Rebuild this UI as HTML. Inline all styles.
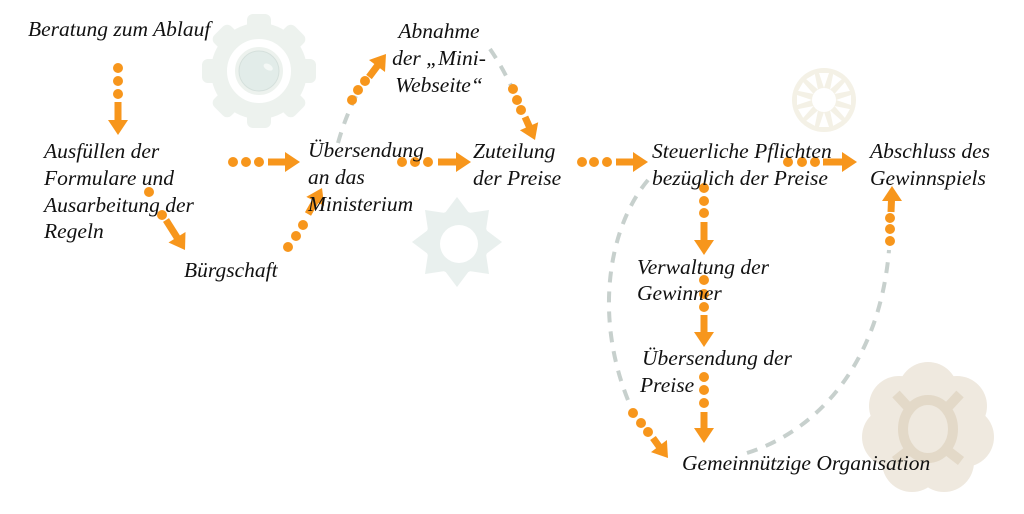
<!DOCTYPE html>
<html>
<head>
<meta charset="utf-8">
<style>
  html,body{margin:0;padding:0;background:#ffffff;}
  body{width:1024px;height:514px;overflow:hidden;}
  svg{display:block;}
  .t{font-family:"Liberation Serif",serif;font-style:italic;font-size:21.5px;fill:#111111;}
</style>
</head>
<body>
<svg width="1024" height="514" viewBox="0 0 1024 514" xmlns="http://www.w3.org/2000/svg">
  <rect width="1024" height="514" fill="#ffffff"/>

  <!-- Gear top-left -->
  <g transform="translate(259,71)" fill="#EDF2EE">
    <circle r="48"/>
    <g>
      <rect x="-12" y="-57" width="24" height="22" rx="6"/>
      <rect x="-12" y="-57" width="24" height="22" rx="6" transform="rotate(45)"/>
      <rect x="-12" y="-57" width="24" height="22" rx="6" transform="rotate(90)"/>
      <rect x="-12" y="-57" width="24" height="22" rx="6" transform="rotate(135)"/>
      <rect x="-12" y="-57" width="24" height="22" rx="6" transform="rotate(180)"/>
      <rect x="-12" y="-57" width="24" height="22" rx="6" transform="rotate(225)"/>
      <rect x="-12" y="-57" width="24" height="22" rx="6" transform="rotate(270)"/>
      <rect x="-12" y="-57" width="24" height="22" rx="6" transform="rotate(315)"/>
    </g>
    <circle r="28" fill="none" stroke="#ffffff" stroke-width="8"/>
    <circle r="20" fill="#E2ECE9" stroke="#D5E0DC" stroke-width="1"/>
    <ellipse cx="6" cy="-8" rx="5" ry="3" fill="#F4F8F6" transform="rotate(30)"/>
  </g>

  <!-- Gear middle (star-like) -->
  <g transform="translate(457,242)" fill="#E9F0EE">
    <polygon points="0,-45 12,-29 32,-32 29,-12 45,0 29,12 32,32 12,29 0,45 -12,29 -32,32 -29,12 -45,0 -29,-12 -32,-32 -12,-29"/>
    <circle r="32"/>
    <circle cx="2" cy="2" r="19" fill="#ffffff"/>
  </g>

  <!-- Sun icon -->
  <g transform="translate(824,100)">
    <circle r="32" fill="#F4F1E6"/>
    <g fill="#ffffff">
      <polygon points="0,-12 -5,-27 5,-27"/>
      <polygon points="0,-12 -5,-27 5,-27" transform="rotate(30)"/>
      <polygon points="0,-12 -5,-27 5,-27" transform="rotate(60)"/>
      <polygon points="0,-12 -5,-27 5,-27" transform="rotate(90)"/>
      <polygon points="0,-12 -5,-27 5,-27" transform="rotate(120)"/>
      <polygon points="0,-12 -5,-27 5,-27" transform="rotate(150)"/>
      <polygon points="0,-12 -5,-27 5,-27" transform="rotate(180)"/>
      <polygon points="0,-12 -5,-27 5,-27" transform="rotate(210)"/>
      <polygon points="0,-12 -5,-27 5,-27" transform="rotate(240)"/>
      <polygon points="0,-12 -5,-27 5,-27" transform="rotate(270)"/>
      <polygon points="0,-12 -5,-27 5,-27" transform="rotate(300)"/>
      <polygon points="0,-12 -5,-27 5,-27" transform="rotate(330)"/>
      <circle r="12"/>
    </g>
  </g>

  <!-- Flower bottom-right -->
  <g transform="translate(928,429)" fill="#EFE9DF">
    <circle r="44"/>
    <circle cx="0" cy="-37" r="30"/>
    <circle cx="29" cy="-23" r="30"/>
    <circle cx="36" cy="8" r="30"/>
    <circle cx="16" cy="33" r="30"/>
    <circle cx="-16" cy="33" r="30"/>
    <circle cx="-36" cy="8" r="30"/>
    <circle cx="-29" cy="-23" r="30"/>
    <g stroke="#E3D9C8" stroke-width="10" fill="none">
      <ellipse cx="0" cy="0" rx="25" ry="29"/>
      <line x1="-20" y1="-22" x2="-32" y2="-35"/>
      <line x1="20" y1="-22" x2="32" y2="-35"/>
      <line x1="20" y1="22" x2="33" y2="32"/>
      <line x1="-20" y1="22" x2="-33" y2="32"/>
    </g>
  </g>

  <!-- Gray dashed curves -->
  <g fill="none" stroke="#C7D0CD" stroke-width="4" stroke-dasharray="11 9">
    <path d="M338,143 Q345,118 356,96"/>
    <path d="M490,49 Q503,68 514,92"/>
    <path d="M648,180 C610,225 592,315 630,405"/>
    <path d="M747,453 C820,430 880,360 889,250"/>
  </g>

  <!-- Orange arrows -->
  <g fill="#F7961C" stroke="none">
    <circle cx="118" cy="68" r="5"/><circle cx="118" cy="81" r="5"/><circle cx="118" cy="94" r="5"/>
    <polygon points="108,120 128,120 118,135"/>
    <circle cx="233" cy="162" r="5"/><circle cx="246" cy="162" r="5"/><circle cx="259" cy="162" r="5"/>
    <polygon points="285,152 285,172 300,162"/>
    <circle cx="149" cy="192" r="5"/><circle cx="162" cy="215" r="5"/>
    <polygon points="185.5,232 168.5,242.5 185,250"/>
    <circle cx="288" cy="247" r="5"/><circle cx="296" cy="236" r="5"/><circle cx="303" cy="225" r="5"/>
    <polygon points="324.2,205.9 306.3,196.9 322,188"/>
    <circle cx="352" cy="100" r="5"/><circle cx="358" cy="90" r="5"/><circle cx="365" cy="81" r="5"/>
    <polygon points="385,72 369,60 386,54"/>
    <circle cx="513" cy="89" r="5"/><circle cx="517" cy="100" r="5"/><circle cx="521" cy="110" r="5"/>
    <polygon points="538.2,122.3 519.9,130.2 535,140"/>
    <circle cx="402" cy="162" r="5"/><circle cx="415" cy="162" r="5"/><circle cx="428" cy="162" r="5"/>
    <polygon points="456,152 456,172 471,162"/>
    <circle cx="582" cy="162" r="5"/><circle cx="594" cy="162" r="5"/><circle cx="607" cy="162" r="5"/>
    <polygon points="633,152 633,172 648,162"/>
    <circle cx="788" cy="162" r="5"/><circle cx="802" cy="162" r="5"/><circle cx="815" cy="162" r="5"/>
    <polygon points="842,152 842,172 857,162"/>
    <circle cx="704" cy="188" r="5"/><circle cx="704" cy="201" r="5"/><circle cx="704" cy="213" r="5"/>
    <polygon points="694,240 714,240 704,255"/>
    <circle cx="704" cy="280" r="5"/><circle cx="704" cy="294" r="5"/><circle cx="704" cy="307" r="5"/>
    <polygon points="694,332 714,332 704,347"/>
    <circle cx="704" cy="377" r="5"/><circle cx="704" cy="390" r="5"/><circle cx="704" cy="403" r="5"/>
    <polygon points="694,428 714,428 704,443"/>
    <circle cx="633" cy="413" r="5"/><circle cx="641" cy="423" r="5"/><circle cx="648" cy="432" r="5"/>
    <polygon points="666.9,440 651,452.1 668,458"/>
    <circle cx="890" cy="241" r="5"/><circle cx="890" cy="229" r="5"/><circle cx="890" cy="218" r="5"/>
    <polygon points="882,201 902,201 892,186"/>
  </g>
  <g stroke="#F7961C" stroke-width="7" fill="none">
    <line x1="118" y1="102" x2="118" y2="121"/>
    <line x1="268" y1="162" x2="286" y2="162"/>
    <line x1="166" y1="220" x2="178" y2="239"/>
    <line x1="308" y1="214" x2="316" y2="200"/>
    <line x1="369" y1="77" x2="378" y2="65"/>
    <line x1="525" y1="117" x2="529.5" y2="127"/>
    <line x1="438" y1="162" x2="457" y2="162"/>
    <line x1="616" y1="162" x2="634" y2="162"/>
    <line x1="823" y1="162" x2="843" y2="162"/>
    <line x1="704" y1="222" x2="704" y2="241"/>
    <line x1="704" y1="315" x2="704" y2="333"/>
    <line x1="704" y1="412" x2="704" y2="429"/>
    <line x1="653" y1="438" x2="659.5" y2="447"/>
    <line x1="891" y1="212" x2="891.5" y2="200"/>
  </g>

  <!-- Labels -->
  <text class="t" x="28" y="36">Beratung zum Ablauf</text>

  <text class="t" x="44" y="158">Ausfüllen der</text>
  <text class="t" x="44" y="185">Formulare und</text>
  <text class="t" x="44" y="212">Ausarbeitung der</text>
  <text class="t" x="44" y="238">Regeln</text>

  <text class="t" x="184" y="277">Bürgschaft</text>

  <text class="t" x="308" y="157">Übersendung</text>
  <text class="t" x="308" y="184">an das</text>
  <text class="t" x="308" y="211">Ministerium</text>

  <text class="t" x="439" y="38" text-anchor="middle">Abnahme</text>
  <text class="t" x="439" y="65" text-anchor="middle">der „Mini-</text>
  <text class="t" x="439" y="92" text-anchor="middle">Webseite“</text>

  <text class="t" x="473" y="158">Zuteilung</text>
  <text class="t" x="473" y="185">der Preise</text>

  <text class="t" x="652" y="158">Steuerliche Pflichten</text>
  <text class="t" x="652" y="185">bezüglich der Preise</text>

  <text class="t" x="870" y="158">Abschluss des</text>
  <text class="t" x="870" y="185">Gewinnspiels</text>

  <text class="t" x="637" y="274">Verwaltung der</text>
  <text class="t" x="637" y="300">Gewinner</text>

  <text class="t" x="642" y="365">Übersendung der</text>
  <text class="t" x="640" y="392">Preise</text>

  <text class="t" x="682" y="470">Gemeinnützige Organisation</text>
</svg>
</body>
</html>
